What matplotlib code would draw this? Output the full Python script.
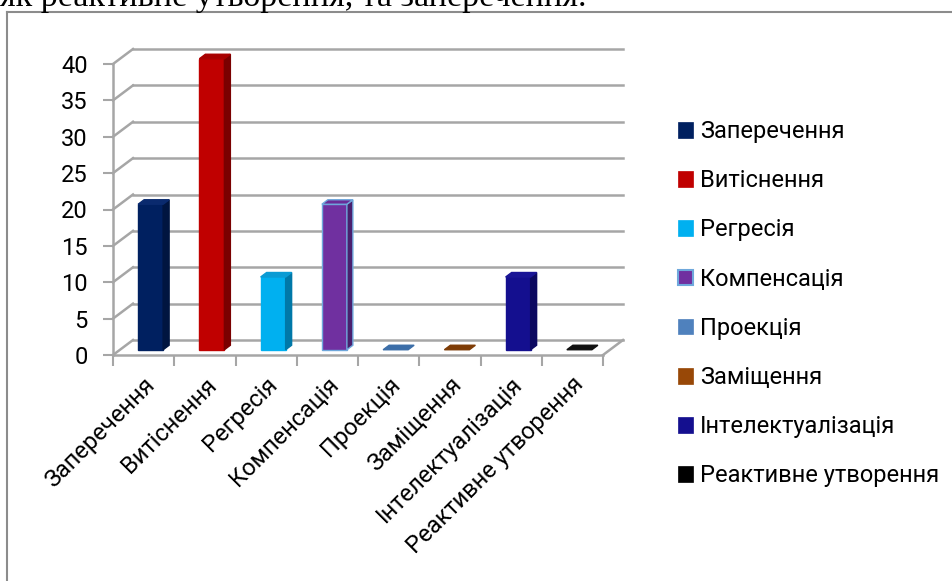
import matplotlib
matplotlib.use("Agg")
import matplotlib.pyplot as plt
from matplotlib.patches import Polygon, Patch
from matplotlib.lines import Line2D

# ───── Data ─────
categories = ["Заперечення", "Витіснення", "Регресія", "Компенсація",
              "Проекція", "Заміщення", "Інтелектуалізація", "Реактивне утворення"]
values = [20, 40, 10, 20, 0, 0, 10, 0]
front_colors = ["#002060", "#c00000", "#00b0f0", "#7030a0",
                "#4f81bd", "#984807", "#140f8f", "#000000"]
side_colors = ["#001540", "#7a0000", "#0078a8", "#4a1f6e",
               "#35587f", "#6a3205", "#0c0960", "#000000"]
top_colors = ["#0a2a6e", "#a80000", "#0a9bd4", "#6a2c98",
              "#3c6ea8", "#7e3c06", "#1a1596", "#111111"]
edge_colors = [None, None, None, "#6fa8dc", None, None, None, None]
yticks = [0, 5, 10, 15, 20, 25, 30, 35, 40]
title_line = "як реактивне утворення, та заперечення."

FONT = "Roboto"
FS = 17
GRID = "#a6a6a6"

W, H = 953, 581
fig = plt.figure(figsize=(W / 100, H / 100), dpi=100)

# axes in pixel-derived position: front axis x 113..603, y 355 (0) .. 64 (40)
ax = fig.add_axes([113 / W, 1 - 355 / H, 490 / W, 291 / H])
n = len(categories)
ax.set_xlim(0, n)
ax.set_ylim(0, 40)

# depth offset of the 3D box in data units
DX = 20 / (490 / n)
DY = 15 / (291 / 40)

# walls: diagonals + back gridlines
for y in yticks:
    ax.plot([0, DX], [y, y + DY], color=GRID, lw=1.8, clip_on=False, zorder=1)
    ax.plot([DX, n + DX], [y + DY, y + DY], color=GRID, lw=1.8, clip_on=False, zorder=1)
ax.plot([n, n + DX], [0, DY], color=GRID, lw=1.8, clip_on=False, zorder=1)

# bars (placed at mid depth)
w = 25 / (490 / n)
d0, dd = 0.35, 0.3
for i, v in enumerate(values):
    x0 = i + 0.5 - w / 2 + d0 * DX
    x1 = x0 + w
    y0 = d0 * DY
    ox, oy = dd * DX, dd * DY
    ec = edge_colors[i] or front_colors[i]
    if v > 0:
        ax.add_patch(Polygon([(x0, y0), (x1, y0), (x1, y0 + v), (x0, y0 + v)],
                             closed=True, fc=front_colors[i], ec=ec, lw=1,
                             clip_on=False, zorder=3))
        ax.add_patch(Polygon([(x1, y0), (x1 + ox, y0 + oy), (x1 + ox, y0 + oy + v), (x1, y0 + v)],
                             closed=True, fc=side_colors[i], ec=ec if edge_colors[i] else side_colors[i],
                             lw=1, clip_on=False, zorder=3))
    ax.add_patch(Polygon([(x0, y0 + v), (x1, y0 + v), (x1 + ox, y0 + v + oy), (x0 + ox, y0 + v + oy)],
                         closed=True, fc=top_colors[i], ec=ec if edge_colors[i] else top_colors[i],
                         lw=1, clip_on=False, zorder=3))

# axes styling
for s in ["top", "right"]:
    ax.spines[s].set_visible(False)
for s in ["left", "bottom"]:
    ax.spines[s].set_color(GRID)
    ax.spines[s].set_linewidth(1.8)
ax.set_yticks(yticks)
ax.set_yticklabels([str(t) for t in yticks], fontfamily=FONT, fontsize=FS)
ax.tick_params(axis="y", length=7, width=1.5, color=GRID, pad=11)
ax.set_xticks([i + 0.5 for i in range(n)])
ax.set_xticklabels(categories, rotation=45, ha="right", rotation_mode="anchor",
                   fontfamily=FONT, fontsize=FS)
ax.tick_params(axis="x", which="major", length=0, pad=13)
ax.set_xticks(range(n + 1), minor=True)
ax.tick_params(axis="x", which="minor", length=8, width=1.5, color=GRID)
ax.set_facecolor("none")

# legend
handles = [Patch(facecolor=front_colors[i], edgecolor=edge_colors[i] or front_colors[i],
                 lw=1.5 if edge_colors[i] else 0.5)
           for i in range(n)]
fig.legend(handles, categories, loc="upper left", bbox_to_anchor=(678 / W, 1 - 120 / H),
           frameon=False, prop={"family": FONT, "size": FS}, borderpad=0, borderaxespad=0,
           handlelength=0.64, handleheight=0.64, handletextpad=0.3, labelspacing=1.11)

# outer chart frame (runs off the page on the right and bottom)
fig.add_artist(Line2D([7 / W, 7 / W], [0, 1 - 12 / H], color="#8c8c8c", lw=1.5))
fig.add_artist(Line2D([7 / W, 1], [1 - 12 / H, 1 - 12 / H], color="#8c8c8c", lw=1.5))

# cut-off text line above the chart
fig.text(0, 1 - 6 / H, title_line, fontfamily="Liberation Serif", fontsize=24.5,
         va="baseline", ha="left")

fig.savefig("out.png", dpi=100)
